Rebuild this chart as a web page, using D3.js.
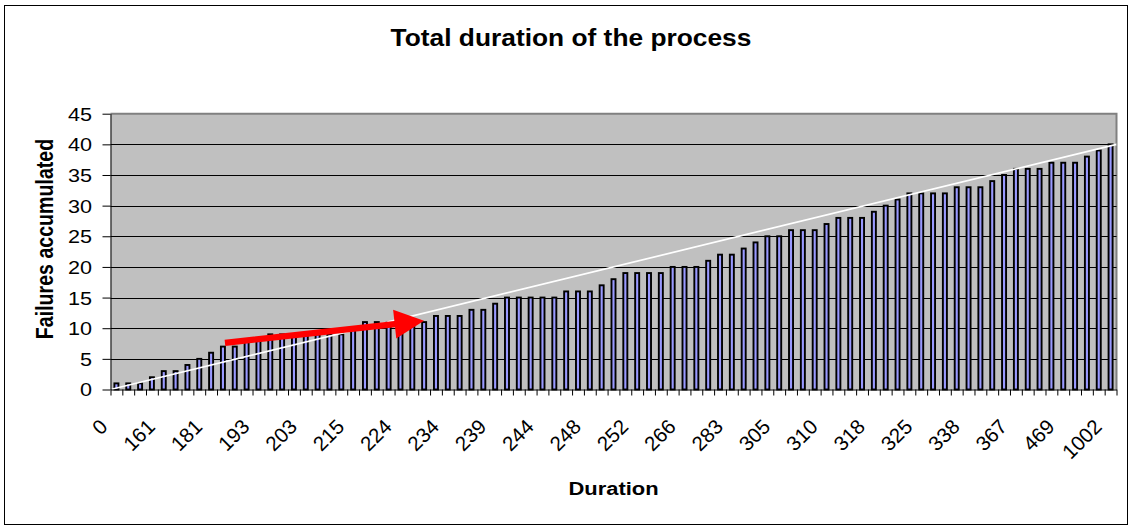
<!DOCTYPE html>
<html><head><meta charset="utf-8">
<script src="https://cdn.jsdelivr.net/npm/d3@7"></script>
<style>
body{margin:0;background:#fff}
svg{display:block}
text{font-family:"Liberation Sans",Arial,Helvetica,sans-serif;fill:#000}
</style>
</head><body>
<svg id="c" width="1131" height="529"></svg>
<script>
// ---- data ----
const chartTitle = "Total duration of the process";
const yTitle = "Failures accumulated";
const xTitle = "Duration";
const failures = [1,1,1,2,3,3,4,5,6,7, 7,8,8,9,9,9,9,9,9,9, 10,11,11,11,11,11,11,12,12,12,
  13,13,14,15,15,15,15,15,16,16, 16,17,18,19,19,19,19,20,20,20, 21,22,22,23,24,25,25,26,26,26,
  27,28,28,28,29,30,31,32,32,32, 32,33,33,33,34,35,36,36,36,37, 37,37,38,39,40];
const tickLabels = ["0","161","181","193","203","215","224","234","239","244","248",
  "252","266","283","305","310","318","325","338","367","469","1002"];
const labelEvery = 4;
const yTicks = [0,5,10,15,20,25,30,35,40,45];
const trendStart = 0, trendEnd = 40;          // white trend line values at left / right edge
const arrowTail = [9.67, 7.6], arrowTip = [26.49, 11.2]; // [category position, value]

// ---- layout ----
const plot = {left:110.5, right:1116.5, top:113.7, bottom:389.5};
const svg = d3.select("#c");
const n = failures.length;
const idx = d3.range(n);

const x = d3.scaleBand().domain(idx).range([plot.left, plot.right]).paddingInner(0.66).paddingOuter(0.33);
const xl = d3.scaleLinear().domain([0, n]).range([plot.left, plot.right]);
const y = d3.scaleLinear().domain([0, 45]).range([plot.bottom, plot.top]);

// chart area border
svg.append("rect").attr("x",4.5).attr("y",5.5).attr("width",1123).attr("height",519)
  .attr("fill","#fff").attr("stroke","#000").attr("stroke-width",1);

// plot area
svg.append("rect").attr("x",plot.left).attr("y",plot.top)
  .attr("width",plot.right-plot.left).attr("height",plot.bottom-plot.top).attr("fill","#C0C0C0");
svg.append("path").attr("d",`M${plot.left},${plot.top}H${plot.right}V${plot.bottom}`)
  .attr("fill","none").attr("stroke","#808080").attr("stroke-width",2);

// gridlines
svg.append("g").selectAll("line").data(yTicks.filter(v=>v>0 && v<45)).join("line")
  .attr("x1",plot.left).attr("x2",plot.right)
  .attr("y1",d=>Math.round(y(d))+0.5).attr("y2",d=>Math.round(y(d))+0.5)
  .attr("stroke","#000").attr("stroke-width",1);

// bars
svg.append("g").selectAll("rect").data(failures).join("rect")
  .attr("x",(d,i)=>x(i)).attr("width",x.bandwidth())
  .attr("y",d=>y(d)).attr("height",d=>y(0)-y(d))
  .attr("fill","#9999FF").attr("stroke","#000").attr("stroke-width",1.9);

// trend line
svg.append("line").attr("x1",xl(0)).attr("y1",y(trendStart)).attr("x2",xl(n)).attr("y2",y(trendEnd))
  .attr("stroke","#fff").attr("stroke-width",1.7);

// red arrow annotation
(function(){
  const p0=[xl(arrowTail[0]), y(arrowTail[1])], p1=[xl(arrowTip[0]), y(arrowTip[1])];
  const dx=p1[0]-p0[0], dy=p1[1]-p0[1], L=Math.hypot(dx,dy);
  const u=[dx/L,dy/L], nn=[-u[1],u[0]];
  const hl=29.5, hw=14.4, bw=3.1;
  const b=[p1[0]-u[0]*hl, p1[1]-u[1]*hl];
  const pt=(p,k)=>[p[0]+nn[0]*k, p[1]+nn[1]*k];
  const pts=[pt(p0,-bw),pt(b,-bw),pt(b,-hw),p1,pt(b,hw),pt(b,bw),pt(p0,bw)];
  svg.append("polygon").attr("points",pts.map(p=>p.join(",")).join(" ")).attr("fill","#FF0000");
})();

// y axis
const yAxis = svg.append("g").attr("transform",`translate(${plot.left},0)`)
  .call(d3.axisLeft(y).tickValues(yTicks).tickSize(8).tickSizeOuter(0));
yAxis.select(".domain").attr("stroke","#000");
yAxis.selectAll(".tick line").attr("stroke","#000");
yAxis.selectAll(".tick text").attr("x",0).attr("dy","0.36em")
  .attr("transform","translate(-18.5,0) scale(1.2,1)")
  .style("font-size","18px").style("font-family",'"Liberation Sans",Arial,sans-serif');

// x axis (ticks at category boundaries)
const xAxis = svg.append("g").attr("transform",`translate(0,${plot.bottom})`)
  .call(d3.axisBottom(xl).tickValues(d3.range(n+1)).tickFormat("").tickSize(6).tickSizeOuter(0));
xAxis.select(".domain").attr("stroke","#000");
xAxis.selectAll(".tick line").attr("stroke","#000");

// x tick labels
svg.append("g").selectAll("text").data(tickLabels).join("text")
  .attr("transform",(d,k)=>{const i=k*labelEvery; return `translate(${x(i)+x.bandwidth()/2-7.5},428) rotate(-45)`;})
  .attr("text-anchor","end").style("font-size","20.5px").text(d=>d);

// titles
svg.append("text").attr("transform","translate(571,46) scale(1.13,1)").attr("text-anchor","middle")
  .style("font-size","23.3px").style("font-weight","bold").text(chartTitle);
svg.append("text").attr("transform","translate(613.5,495) scale(1.18,1)").attr("text-anchor","middle")
  .style("font-size","18.6px").style("font-weight","bold").text(xTitle);
svg.append("text").attr("transform","translate(53,239) scale(1.26,1) rotate(-90)").attr("text-anchor","middle")
  .style("font-size","19.6px").style("font-weight","bold").text(yTitle);
</script>
</body></html>
